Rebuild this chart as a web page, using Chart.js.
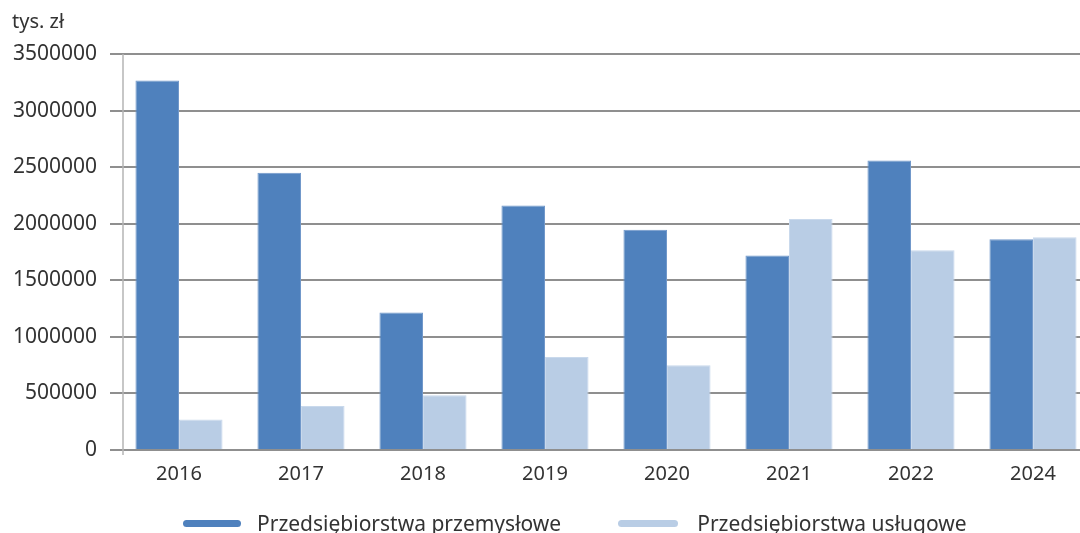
<!DOCTYPE html>
<html><head><meta charset="utf-8">
<script src="https://cdn.jsdelivr.net/npm/chart.js@4.4.1/dist/chart.umd.min.js"></script>
<style>
html,body{margin:0;padding:0;background:#fff;}
#wrap{position:relative;width:1080px;height:533px;overflow:hidden;font-family:"Noto Sans",sans-serif;}
#c{position:absolute;left:0;top:0;}
#legend{position:absolute;top:511px;left:183px;display:flex;align-items:center;white-space:nowrap;}
.item{display:flex;align-items:center;margin-right:57px;}
.sw{width:58px;height:7px;border-radius:4px;margin-right:16px;}
.item + .item .sw{width:60px;margin-right:19px;}
.tx{font-size:21px;color:#333;line-height:25px;}
</style></head><body>
<div id="wrap"><canvas id="c" width="1094" height="533"></canvas><div id="legend"></div></div>
<script>
const categories = ['2016','2017','2018','2019','2020','2021','2022','2024'];
const seriesNames = ['Przedsiębiorstwa przemysłowe','Przedsiębiorstwa usługowe'];
const przemyslowe = [3265000,2450000,1215000,2162000,1947000,1718000,2559000,1862000];
const uslugowe = [270000,388000,485000,823000,750000,2041000,1765000,1880000];
const yTicks = [0,500000,1000000,1500000,2000000,2500000,3000000,3500000];
const unitLabel = 'tys. zł';
const colors = ['#4F81BD','#B9CDE5'];
const edgeColors = ['#7198CA','#C9D9EC'];

const axisPlugin = {
  id:'axisPlugin',
  afterDraw(chart){
    const ctx = chart.ctx, a = chart.chartArea;
    ctx.save();
    ctx.strokeStyle = '#b5b5b5';
    ctx.lineWidth = 1.5;
    ctx.beginPath();
    ctx.moveTo(123, a.top);
    ctx.lineTo(123, a.bottom + 5);
    ctx.stroke();
    ctx.fillStyle = '#333';
    ctx.font = '20px "Noto Sans"';
    ctx.textBaseline = 'middle';
    ctx.textAlign = 'left';
    ctx.fillText(unitLabel, 12, 22);
    ctx.restore();
  }
};

const chart = new Chart(document.getElementById('c'), {
  type:'bar',
  data:{
    labels: categories,
    datasets:[
      {label: seriesNames[0], data: przemyslowe, backgroundColor: colors[0], borderColor: edgeColors[0], borderWidth:1},
      {label: seriesNames[1], data: uslugowe, backgroundColor: colors[1], borderColor: edgeColors[1], borderWidth:1}
    ]
  },
  options:{
    responsive:false,
    animation:false,
    devicePixelRatio:1,
    layout:{padding:{top:54,right:0,bottom:43,left:0}},
    datasets:{bar:{categoryPercentage:0.714,barPercentage:1.0}},
    plugins:{legend:{display:false},tooltip:{enabled:false}},
    scales:{
      x:{
        grid:{display:false,drawTicks:false},
        border:{display:false},
        ticks:{font:{family:'Noto Sans',size:20},color:'#333',padding:12},
        afterFit(s){ s.height = 40; }
      },
      y:{
        min:0,max:3500000,
        afterBuildTicks(s){ s.ticks = yTicks.map(v=>({value:v})); },
        grid:{color:'#8f8f8f',lineWidth:2,tickLength:8},
        border:{display:false},
        ticks:{font:{family:'Noto Sans',size:21},color:'#333',padding:13,callback:(v)=>String(v)},
        afterFit(s){ s.width = 118; }
      }
    }
  },
  plugins:[axisPlugin]
});

const lg = document.getElementById('legend');
seriesNames.forEach((n,i)=>{
  const it = document.createElement('div'); it.className='item';
  const sw = document.createElement('div'); sw.className='sw'; sw.style.background=colors[i];
  const tx = document.createElement('span'); tx.className='tx'; tx.textContent=n;
  it.appendChild(sw); it.appendChild(tx); lg.appendChild(it);
});
</script>
</body></html>
